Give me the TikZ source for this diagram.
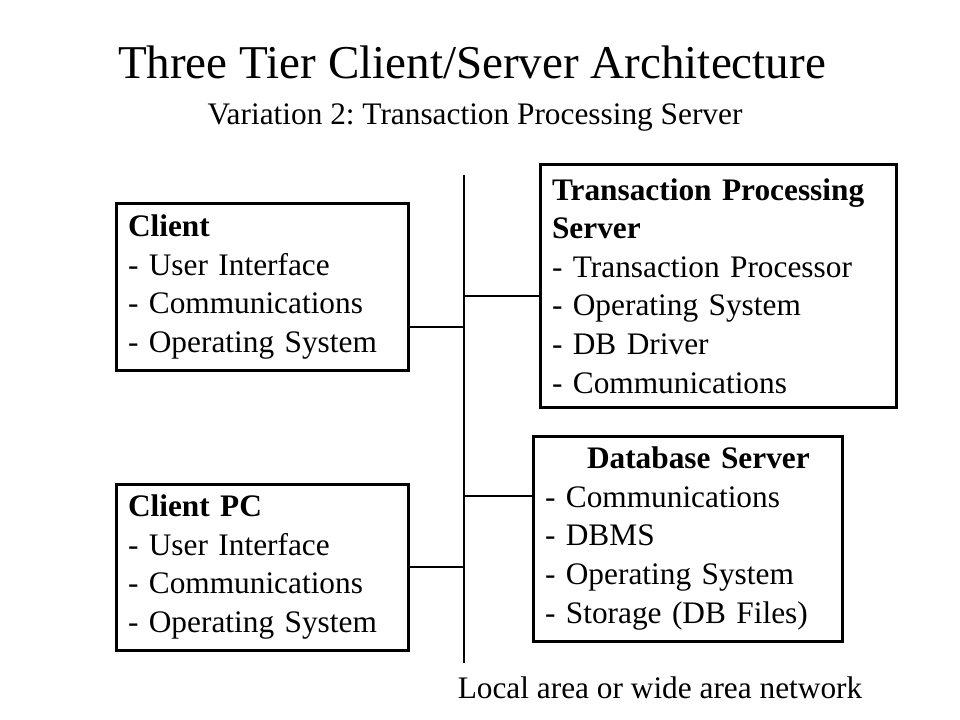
\documentclass[tikz,border=0pt]{standalone}
\usepackage{fontspec}
\setmainfont{Liberation Serif}
\frenchspacing

\begin{document}
\begin{tikzpicture}[x=0.75pt,y=0.75pt,yscale=-1,xscale=1,
  tier box/.style={draw, line width=2.25pt, outer sep=0pt, inner xsep=9pt, inner ysep=0pt,
    align=left, anchor=north west, font=\fontsize{23.5}{28.9}\selectfont},
  net line/.style={line width=0.8pt},
  plain text/.style={inner sep=0pt, font=\fontsize{23.5}{28.9}\selectfont}]
\useasboundingbox (0,0) rectangle (960,720);

% Text Node
\draw (472,62) node [inner sep=0pt, font=\fontsize{35.3}{40}\selectfont] (title) {Three Tier Client/Server Architecture};
% Text Node
\draw (475,118) node [plain text] (subtitle) {Variation 2: Transaction Processing Server};

%Shape: Rectangle [client]
\node [tier box, minimum width=219pt, minimum height=124.5pt, text width=201pt] (client) at (116,204)
  {\textbf{Client}\\- User Interface\\- Communications\\- Operating System};
%Shape: Rectangle [client pc]
\node [tier box, minimum width=219pt, minimum height=124.5pt, text width=201pt] (pc) at (116,484)
  {\textbf{Client PC}\\- User Interface\\- Communications\\- Operating System};
%Shape: Rectangle [transaction processing server]
\node [tier box, minimum width=267pt, minimum height=181.5pt, text width=249pt] (tps) at (540,165)
  {\textbf{Transaction Processing}\\\textbf{Server}\\- Transaction Processor\\- Operating System\\- DB Driver\\- Communications};
%Shape: Rectangle [database server]
\node [tier box, minimum width=231.75pt, minimum height=153.75pt, text width=213.75pt] (dbs) at (533,436)
  {\hspace*{31.5pt}\textbf{Database Server}\\- Communications\\- DBMS\\- Operating System\\- Storage (DB Files)};

%Straight Lines [network]
\coordinate (bus top) at (464,175);
\coordinate (bus bot) at (464,663);
\draw [net line] (bus top) -- (bus bot);
\coordinate (b1) at (464,327);
\coordinate (b2) at (464,296);
\coordinate (b3) at (464,496);
\coordinate (b4) at (464,567);
\draw [net line] (b1) -- (b1 -| client.east);
\draw [net line] (b2) -- (b2 -| tps.west);
\draw [net line] (b3) -- (b3 -| dbs.west);
\draw [net line] (b4) -- (b4 -| pc.east);

% Text Node
\draw (660,688) node [plain text] (net) {Local area or wide area network};

\end{tikzpicture}
\end{document}
